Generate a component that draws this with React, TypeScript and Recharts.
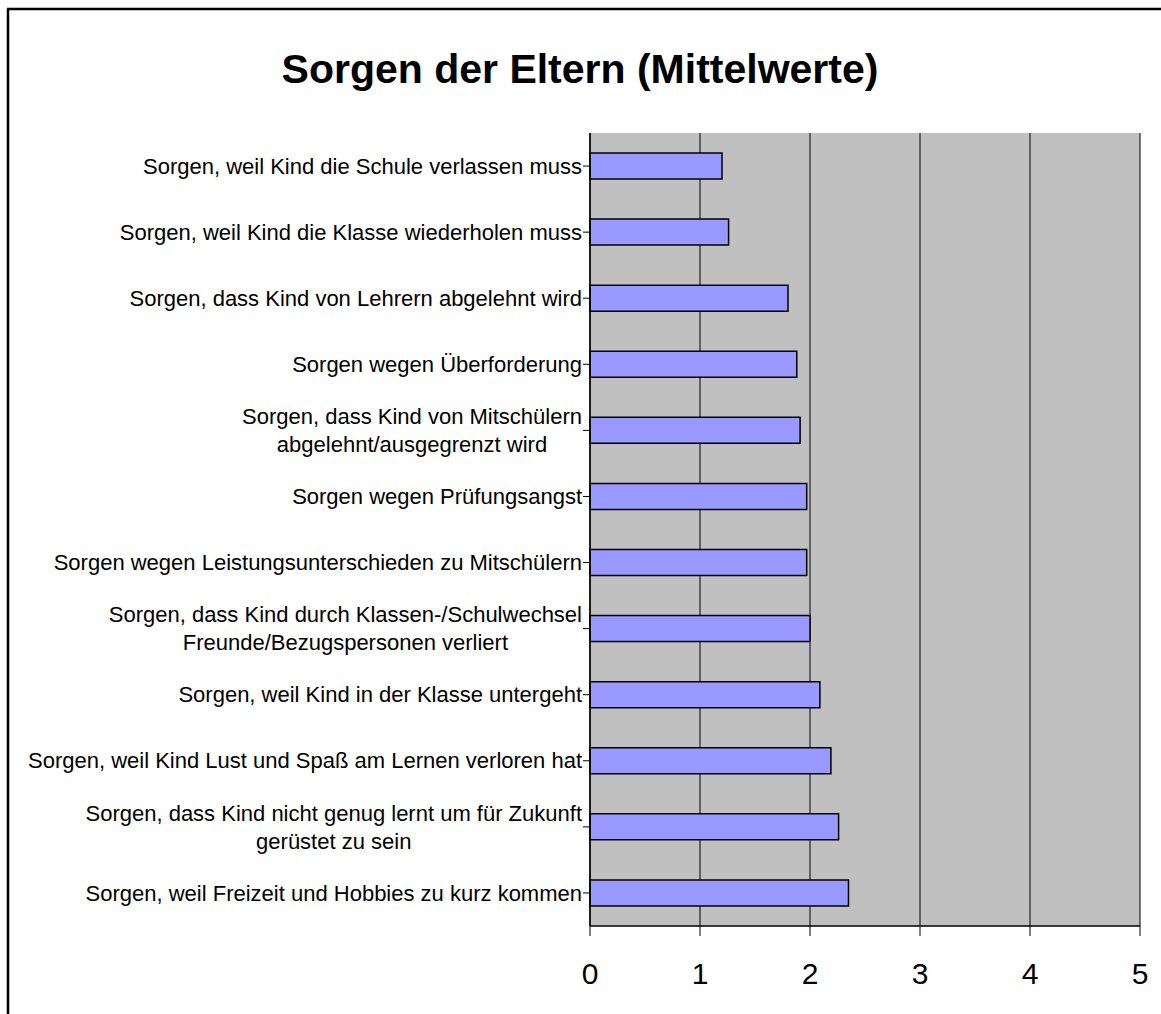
import React from 'react';
import { BarChart, Bar, XAxis, YAxis, CartesianGrid } from 'recharts';

const categories: string[] = [
  'Sorgen, weil Kind die Schule verlassen muss',
  'Sorgen, weil Kind die Klasse wiederholen muss',
  'Sorgen, dass Kind von Lehrern abgelehnt wird',
  'Sorgen wegen Überforderung',
  'Sorgen, dass Kind von Mitschülern\nabgelehnt/ausgegrenzt wird',
  'Sorgen wegen Prüfungsangst',
  'Sorgen wegen Leistungsunterschieden zu Mitschülern',
  'Sorgen, dass Kind durch Klassen-/Schulwechsel\nFreunde/Bezugspersonen verliert',
  'Sorgen, weil Kind in der Klasse untergeht',
  'Sorgen, weil Kind Lust und Spaß am Lernen verloren hat',
  'Sorgen, dass Kind nicht genug lernt um für Zukunft\ngerüstet zu sein',
  'Sorgen, weil Freizeit und Hobbies zu kurz kommen',
];

const values: number[] = [1.2, 1.26, 1.8, 1.88, 1.91, 1.97, 1.97, 2.0, 2.09, 2.19, 2.26, 2.35];

const xTicks: number[] = [0, 1, 2, 3, 4, 5];

const title = 'Sorgen der Eltern (Mittelwerte)';

const data = categories.map((name, i) => ({ name, value: values[i] }));

const FONT = '"Liberation Sans", Arial, sans-serif';
const LABEL_SIZE = 22;

let ctx: CanvasRenderingContext2D | null = null;
const measure = (s: string): number => {
  if (!ctx) {
    const c = document.createElement('canvas');
    ctx = c.getContext('2d');
  }
  if (!ctx) return s.length * LABEL_SIZE * 0.5;
  ctx.font = `${LABEL_SIZE}px "Liberation Sans", Arial, sans-serif`;
  return ctx.measureText(s).width;
};

const YTick = (props: any) => {
  const { x, y, payload } = props;
  const lines = String(payload.value).split('\n');
  const maxW = Math.max(...lines.map(measure));
  const cx = x - maxW / 2;
  const lh = 28;
  const startY = y - ((lines.length - 1) * lh) / 2;
  return (
    <text fontFamily={FONT} fontSize={LABEL_SIZE} fill="#000" textAnchor="middle">
      {lines.map((l, i) => (
        <tspan key={i} x={cx} y={startY + i * lh} dy="0.35em">
          {l}
        </tspan>
      ))}
    </text>
  );
};

const XTick = (props: any) => {
  const { x, y, payload } = props;
  return (
    <text x={x} y={y + 46} fontFamily={FONT} fontSize={30} fill="#000" textAnchor="middle">
      {payload.value}
    </text>
  );
};

export default function App() {
  return (
    <div style={{ position: 'absolute', left: 0, top: 0, width: 1161, height: 1014, background: '#fff' }}>
      <BarChart
        width={1161}
        height={1014}
        data={data}
        layout="vertical"
        margin={{ top: 133, right: 21, bottom: 0, left: 0 }}
        barSize={26}
      >
        <CartesianGrid horizontal={false} vertical={true} stroke="#000" strokeWidth={1} fill="#C0C0C0" fillOpacity={1} />
        <XAxis
          type="number"
          domain={[0, 5]}
          ticks={xTicks}
          interval={0}
          height={88}
          tickSize={10}
          tickMargin={2}
          axisLine={{ stroke: '#000', strokeWidth: 1.5 }}
          tickLine={{ stroke: '#000' }}
          tick={<XTick />}
        />
        <XAxis
          xAxisId="top"
          type="number"
          domain={[0, 5]}
          orientation="top"
          height={0}
          tick={false}
          tickLine={false}
          axisLine={{ stroke: '#808080', strokeWidth: 2 }}
        />
        <YAxis
          type="category"
          dataKey="name"
          width={590}
          interval={0}
          tickSize={7}
          tickMargin={1}
          axisLine={{ stroke: '#000', strokeWidth: 1.5 }}
          tickLine={{ stroke: '#000' }}
          tick={<YTick />}
        />
        <YAxis
          yAxisId="right"
          type="category"
          dataKey="name"
          orientation="right"
          width={0}
          tick={false}
          tickLine={false}
          axisLine={{ stroke: '#808080', strokeWidth: 2 }}
        />
        <Bar dataKey="value" fill="#9999FF" stroke="#000" strokeWidth={1.5} isAnimationActive={false} />
      </BarChart>
      <svg
        width={1161}
        height={1014}
        style={{ position: 'absolute', left: 0, top: 0, pointerEvents: 'none' }}
      >
        <line x1={8} y1={9} x2={8} y2={1014} stroke="#000" strokeWidth={2.5} />
        <line x1={7} y1={9} x2={1161} y2={9} stroke="#000" strokeWidth={2.5} />
        <text x={580} y={83} textAnchor="middle" fontFamily={FONT} fontWeight="bold" fontSize={41} fill="#000">
          {title}
        </text>
      </svg>
    </div>
  );
}
